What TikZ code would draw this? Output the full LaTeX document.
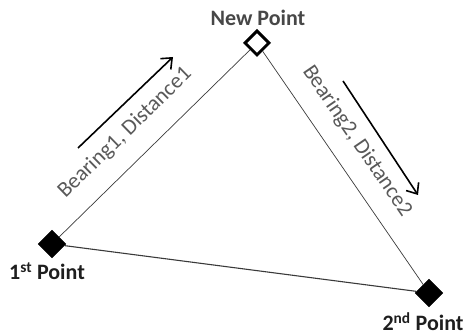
\documentclass[tikz,border=0pt]{standalone}
\usepackage{fontspec}
\setmainfont{Carlito}
\usetikzlibrary{arrows.meta, shapes.geometric}
\definecolor{lineGray}{HTML}{3A3A3A}
\definecolor{textGray}{HTML}{595959}
\definecolor{labelDark}{HTML}{1E1E1E}
\tikzset{
  ptFill/.style={diamond, fill=black, draw=black, minimum size=28pt, inner sep=0pt},
  ptOpen/.style={diamond, fill=white, draw=black, line width=3pt,
                 minimum size=25pt, inner sep=0pt},
  arrowK/.style={-{Straight Barb[length=9pt, width=15pt]}, line width=1.6pt, black},
  edgeT/.style={lineGray, line width=0.7pt},
  edgeB/.style={lineGray, line width=1.1pt},
  lblPt/.style={font=\bfseries\fontsize{22}{26}\selectfont, text=labelDark,
                anchor=base, inner sep=0pt},
  lblLeg/.style={font=\fontsize{22}{26}\selectfont, text=textGray},
}
\begin{document}
\begin{tikzpicture}[x=1pt, y=-1pt]
    \useasboundingbox (0,0) rectangle (466,336);
    % points
    \node[ptFill] (p1) at (52,244) {};
    \node[ptFill] (p2) at (429,293) {};
    \node[ptOpen] (np) at (257,43) {};
    \node[lblPt, text=textGray!80!black] (npL) at (258,26) {New Point};
    \node[lblPt] (p1L) at (47,280) {1\textsuperscript{st} Point};
    \node[lblPt] (p2L) at (423,331) {2\textsuperscript{nd} Point};
    % triangle
    \draw[edgeT] (p1) -- (np);
    \draw[edgeT] (np) -- (p2);
    \draw[edgeB] (p1) -- (p2);
    % legs
    \node[lblLeg, rotate=44.3] (leg1) at (125,133) {Bearing1, Distance1};
    \node[lblLeg, rotate=-55.6] (leg2) at (357,141) {Bearing2, Distance2};
    \coordinate (a1s) at (78,148);
    \coordinate (a1e) at (173,57);
    \coordinate (a2s) at (343,81);
    \coordinate (a2e) at (418,195);
    \draw[arrowK] (a1s) -- (a1e);
    \draw[arrowK] (a2s) -- (a2e);
\end{tikzpicture}
\end{document}
